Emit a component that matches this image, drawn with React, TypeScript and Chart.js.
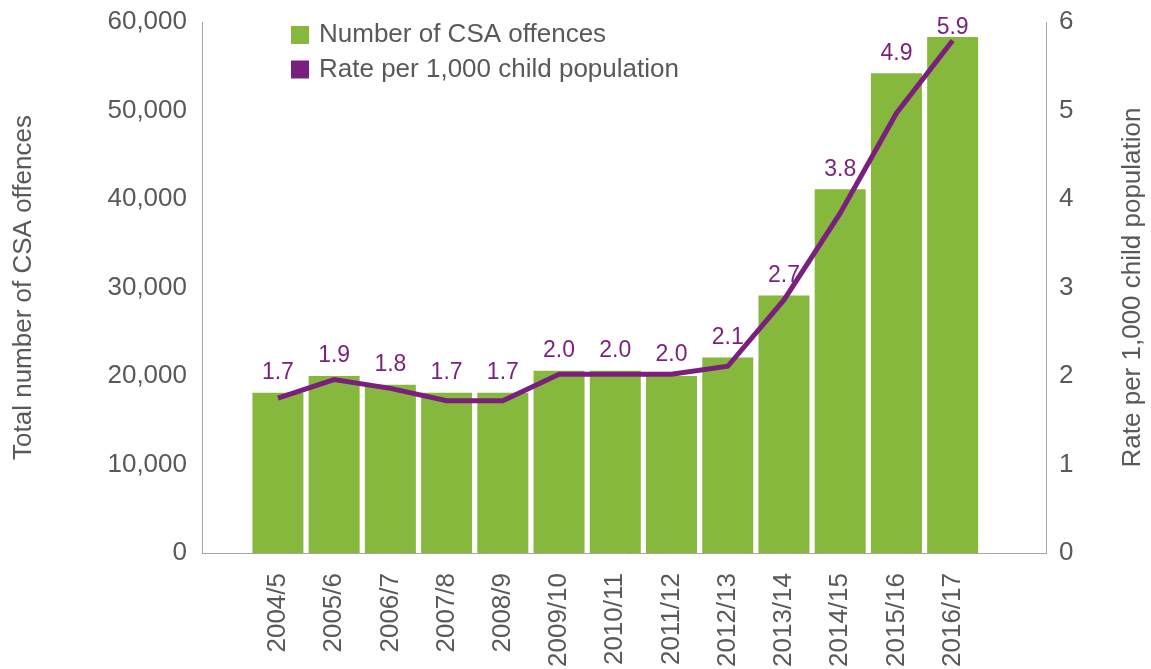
import React, { useEffect, useRef } from "react";
import { Chart, registerables } from "chart.js";

Chart.register(...registerables);

const categories = [
  "2004/5", "2005/6", "2006/7", "2007/8", "2008/9", "2009/10", "2010/11",
  "2011/12", "2012/13", "2013/14", "2014/15", "2015/16", "2016/17",
];
const offences = [18100, 20000, 19000, 18100, 18100, 20600, 20600, 20000, 22100, 29100, 41100, 54200, 58300];
const rates = [1.75, 1.96, 1.86, 1.72, 1.72, 2.02, 2.02, 2.02, 2.11, 2.86, 3.84, 4.97, 5.79];
const rateLabels = ["1.7", "1.9", "1.8", "1.7", "1.7", "2.0", "2.0", "2.0", "2.1", "2.7", "3.8", "4.9", "5.9"];
const offencesLabel = "Number of CSA offences";
const rateLabel = "Rate per 1,000 child population";
const leftTitle = "Total number of CSA offences";
const rightTitle = "Rate per 1,000 child population";

const GREEN = "#86B83D";
const PURPLE = "#7B1F7E";
const GREY = "#595959";
const AXIS = "#A6A6A6";
const FONT = "'Liberation Sans', Arial, sans-serif";

export default function App() {
  const ref = useRef<HTMLCanvasElement>(null);

  useEffect(() => {
    const canvas = ref.current;
    if (!canvas) return;

    const overlay = {
      id: "overlay",
      afterDatasetsDraw(chart: any) {
        const ctx = chart.ctx as CanvasRenderingContext2D;
        const area = chart.chartArea;
        const lineMeta = chart.getDatasetMeta(0);
        const barMeta = chart.getDatasetMeta(1);
        ctx.save();
        ctx.font = `23px ${FONT}`;
        ctx.fillStyle = PURPLE;
        ctx.textAlign = "center";
        ctx.textBaseline = "middle";
        rateLabels.forEach((t, i) => {
          const p = lineMeta.data[i];
          const b = barMeta.data[i];
          if (!p || !b) return;
          const top = Math.min(p.y, b.y);
          const y = Math.max(top - 20, area.top + 6);
          ctx.fillText(t, b.x, y);
        });
        ctx.restore();
      },
      afterDraw(chart: any) {
        const ctx = chart.ctx as CanvasRenderingContext2D;
        const area = chart.chartArea;
        const ds = chart.data.datasets;
        ctx.save();
        const items = [
          { label: ds[1].label, color: ds[1].backgroundColor },
          { label: ds[0].label, color: ds[0].borderColor },
        ];
        ctx.font = `26px ${FONT}`;
        ctx.textAlign = "left";
        ctx.textBaseline = "middle";
        items.forEach((it, k) => {
          const cy = 35 + k * 34.5;
          ctx.fillStyle = it.color;
          ctx.fillRect(291, cy - 9, 18, 18);
          ctx.fillStyle = GREY;
          ctx.fillText(it.label, 319, cy);
        });
        const midY = (area.top + area.bottom) / 2;
        ctx.textAlign = "center";
        ctx.fillStyle = GREY;
        ctx.save();
        ctx.translate(24, midY);
        ctx.rotate(-Math.PI / 2);
        ctx.fillText(leftTitle, 0, 0);
        ctx.restore();
        ctx.save();
        ctx.translate(1133, midY);
        ctx.rotate(-Math.PI / 2);
        ctx.fillText(rightTitle, 0, 0);
        ctx.restore();
        ctx.restore();
      },
    };

    const tickFont = { family: FONT, size: 26 };
    const noPad = (s: any) => {
      s.paddingTop = 0;
      s.paddingBottom = 0;
      s.paddingLeft = 0;
      s.paddingRight = 0;
    };

    const chart = new Chart(canvas, {
      type: "bar",
      data: {
        datasets: [
          {
            type: "line",
            label: rateLabel,
            data: rates.map((v, i) => ({ x: i, y: v })),
            yAxisID: "y1",
            borderColor: PURPLE,
            backgroundColor: PURPLE,
            borderWidth: 5,
            pointRadius: 0,
            tension: 0,
            order: 0,
          } as any,
          {
            type: "bar",
            label: offencesLabel,
            data: offences.map((v, i) => ({ x: i, y: v })),
            yAxisID: "y",
            backgroundColor: GREEN,
            barPercentage: 0.907,
            categoryPercentage: 1,
            order: 1,
          } as any,
        ],
      },
      options: {
        animation: false,
        responsive: false,
        maintainAspectRatio: false,
        layout: { padding: { top: 22, left: 0, right: 0, bottom: 0 } },
        plugins: { legend: { display: false }, tooltip: { enabled: false } },
        scales: {
          x: {
            type: "linear",
            position: "bottom",
            offset: false,
            min: -1.35,
            max: 13.66,
            bounds: "data",
            grid: { display: false, drawTicks: false, offset: false },
            border: { display: true, color: AXIS, width: 1 },
            afterBuildTicks: (s: any) => {
              s.ticks = categories.map((_, i) => ({ value: i }));
            },
            afterFit: (s: any) => {
              s.height = 116;
              noPad(s);
            },
            ticks: {
              autoSkip: false,
              maxRotation: 90,
              minRotation: 90,
              padding: 20,
              color: GREY,
              font: tickFont,
              callback: (v: any) => categories[Number(v)] ?? "",
            },
          } as any,
          y: {
            type: "linear",
            position: "left",
            min: 0,
            max: 60000,
            grid: { display: false, drawTicks: false },
            border: { display: true, color: AXIS, width: 1 },
            afterFit: (s: any) => {
              s.width = 202;
              noPad(s);
            },
            ticks: {
              stepSize: 10000,
              padding: 15,
              color: GREY,
              font: tickFont,
              callback: (v: any) => Number(v).toLocaleString("en-US"),
            },
          } as any,
          y1: {
            type: "linear",
            position: "right",
            min: 0,
            max: 6,
            grid: { display: false, drawTicks: false },
            border: { display: true, color: AXIS, width: 1 },
            afterFit: (s: any) => {
              s.width = 105;
              noPad(s);
            },
            ticks: {
              stepSize: 1,
              padding: 13,
              color: GREY,
              font: tickFont,
              callback: (v: any) => String(v),
            },
          } as any,
        },
      },
      plugins: [overlay],
    });

    return () => chart.destroy();
  }, []);

  return (
    <div style={{ position: "fixed", left: 0, top: 0, width: 1151, height: 669, background: "#fff" }}>
      <canvas ref={ref} width={1151} height={669} style={{ display: "block", width: 1151, height: 669 }} />
    </div>
  );
}
